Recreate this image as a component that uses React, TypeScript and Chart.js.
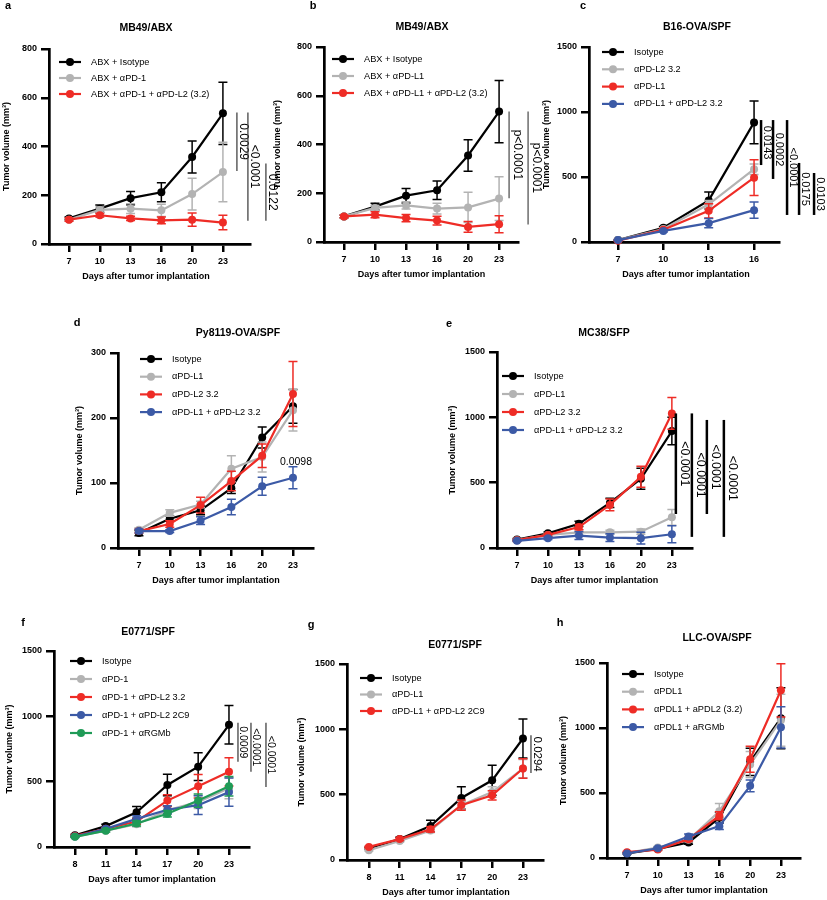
import React, { useEffect, useRef } from 'react';
import { Chart, registerables } from 'chart.js';

Chart.register(...registerables);

const FONT = '"Liberation Sans", Arial, Helvetica, sans-serif';
const BLACK = '#000000';
const GRAY = '#b3b3b3';
const RED = '#ee2c26';
const BLUE = '#3c5aa6';
const GREEN = '#1f9b57';

// ---------- Panel a: MB49/ABX ----------
const aDays = [7, 10, 13, 16, 20, 23];
const aIsotype = [105, 145, 188, 212, 357, 536];
const aIsotypeSem = [6, 15, 27, 39, 66, 128];
const aPD1 = [100, 140, 145, 138, 205, 295];
const aPD1Sem = [5, 12, 20, 25, 65, 122];
const aCombo = [100, 118, 105, 97, 100, 88];
const aComboSem = [7, 7, 9, 14, 27, 30];
const aSig = [
  { from: 540, to: 300, label: '0.0029' },
  { from: 540, to: 95, label: '<0.0001' },
  { from: 330, to: 95, label: '0.0122' },
];

// ---------- Panel b: MB49/ABX ----------
const bDays = [7, 10, 13, 16, 20, 23];
const bIsotype = [105, 145, 190, 212, 355, 535];
const bIsotypeSem = [6, 14, 30, 38, 65, 128];
const bPDL1 = [105, 140, 150, 137, 142, 178];
const bPDL1Sem = [5, 10, 15, 22, 62, 90];
const bCombo = [105, 112, 98, 88, 62, 73];
const bComboSem = [5, 12, 15, 18, 22, 35];
const bSig = [
  { from: 535, to: 180, label: 'p<0.0001' },
  { from: 535, to: 72, label: 'p<0.0001' },
];

// ---------- Panel c: B16-OVA/SPF ----------
const cDays = [7, 10, 13, 16];
const cIsotype = [15, 110, 320, 920];
const cIsotypeSem = [4, 10, 65, 165];
const cPDL2 = [15, 100, 290, 560];
const cPDL2Sem = [3, 8, 30, 40];
const cPDL1 = [10, 95, 240, 495];
const cPDL1Sem = [3, 8, 55, 137];
const cCombo = [15, 85, 145, 245];
const cComboSem = [3, 8, 35, 62];
const cSig = [
  { from: 938, to: 592, label: '0.0143' },
  { from: 938, to: 485, label: '0.0002' },
  { from: 938, to: 208, label: '<0.0001' },
  { from: 608, to: 208, label: '0.0175' },
  { from: 531, to: 208, label: '0.0103' },
];

// ---------- Panel d: Py8119-OVA/SPF ----------
const dDays = [7, 10, 13, 16, 20, 23];
const dIsotype = [23, 45, 58, 92, 170, 218];
const dIsotypeSem = [4, 4, 7, 8, 16, 26];
const dPDL1 = [28, 54, 67, 122, 140, 212];
const dPDL1Sem = [3, 5, 5, 20, 23, 32];
const dPDL2 = [26, 37, 66, 103, 142, 237];
const dPDL2Sem = [3, 5, 12, 15, 18, 50];
const dCombo = [26, 26, 42, 63, 95, 108];
const dComboSem = [3, 2, 6, 12, 14, 17];
const dNotes = [{ index: 5, value: 128, label: '0.0098' }];

// ---------- Panel e: MC38/SFP ----------
const eDays = [7, 10, 13, 16, 20, 23];
const eIsotype = [65, 112, 185, 345, 530, 895];
const eIsotypeSem = [8, 10, 20, 35, 80, 105];
const ePDL1 = [60, 100, 120, 120, 125, 235];
const ePDL1Sem = [6, 10, 20, 15, 20, 60];
const ePDL2 = [60, 100, 160, 330, 545, 1030];
const ePDL2Sem = [6, 10, 20, 45, 80, 122];
const eCombo = [55, 75, 95, 80, 75, 105];
const eComboSem = [6, 10, 30, 30, 45, 65];
const eSig = [
  { from: 1030, to: 260, label: '<0.0001' },
  { from: 1030, to: 85, label: '<0.0001' },
  { from: 980, to: 260, label: '<0.0001' },
  { from: 980, to: 85, label: '<0.0001' },
];

// ---------- Panel f: E0771/SPF ----------
const fDays = [8, 11, 14, 17, 20, 23];
const fIsotype = [90, 160, 265, 475, 615, 935];
const fIsotypeSem = [8, 15, 45, 82, 106, 147];
const fPD1 = [80, 125, 175, 280, 345, 450];
const fPD1Sem = [6, 10, 20, 30, 50, 80];
const fPD1L2 = [85, 140, 195, 355, 465, 575];
const fPD1L2Sem = [6, 10, 20, 45, 90, 108];
const fPD1L2C9 = [80, 140, 215, 285, 320, 420];
const fPD1L2C9Sem = [6, 10, 25, 30, 72, 108];
const fPD1RGMb = [78, 125, 180, 255, 355, 465];
const fPD1RGMbSem = [6, 10, 20, 25, 50, 75];
const fSig = [
  { from: 951, to: 652, label: '0.0009' },
  { from: 951, to: 575, label: '<0.0001' },
  { from: 951, to: 459, label: '<0.0001' },
];

// ---------- Panel g: E0771/SPF ----------
const gDays = [8, 11, 14, 17, 20, 23];
const gIsotype = [90, 160, 260, 475, 610, 930];
const gIsotypeSem = [8, 15, 45, 85, 115, 150];
const gPDL1 = [75, 145, 225, 420, 520, 700];
const gPDL1Sem = [6, 10, 15, 30, 40, 70];
const gCombo = [100, 160, 235, 420, 495, 700];
const gComboSem = [6, 10, 20, 40, 35, 75];
const gSig = [{ from: 955, to: 665, label: '0.0294' }];

// ---------- Panel h: LLC-OVA/SPF ----------
const hDays = [7, 10, 13, 16, 20, 23];
const hIsotype = [35, 70, 120, 310, 740, 1075];
const hIsotypeSem = [5, 8, 15, 40, 105, 235];
const hPDL1 = [40, 80, 140, 360, 720, 1060];
const hPDL1Sem = [5, 8, 15, 60, 100, 200];
const hPDL1L2 = [45, 65, 145, 325, 760, 1290];
const hPDL1L2Sem = [5, 8, 15, 30, 100, 205];
const hPDL1RGMb = [35, 75, 165, 245, 555, 1005];
const hPDL1RGMbSem = [5, 8, 20, 25, 45, 158];

type Series = { label: string; color: string; values: number[]; sem: number[] };
type Sig = { from: number; to: number; label: string };
type Note = { index: number; value: number; label: string };
type SigStyle = { color: string; width: number; size: number; textDx: number };

interface Panel {
  letter: string;
  title: string;
  days: number[];
  series: Series[];
  area: [number, number, number, number];
  xRange: [number, number];
  yMax: number;
  yStep: number;
  titlePos: [number, number];
  letterPos: [number, number];
  yTitleDx: number;
  legend: [number, number, number];
  sig?: Sig[];
  sigDx?: number[];
  sigStyle?: SigStyle;
  notes?: Note[];
}

const PANELS: Panel[] = [
  {
    letter: 'a', title: 'MB49/ABX', days: aDays,
    series: [
      { label: 'ABX + Isotype', color: BLACK, values: aIsotype, sem: aIsotypeSem },
      { label: 'ABX + αPD-1', color: GRAY, values: aPD1, sem: aPD1Sem },
      { label: 'ABX + αPD-1 + αPD-L2 (3.2)', color: RED, values: aCombo, sem: aComboSem },
    ],
    area: [49, 49, 250, 244], xRange: [-0.65, 5.88], yMax: 800, yStep: 200,
    titlePos: [146, 28], letterPos: [8, 6], yTitleDx: 42, legend: [10, 13, 16],
    sig: aSig, sigDx: [14, 25, 43], sigStyle: { color: '#444', width: 1.3, size: 12, textDx: 6 },
  },
  {
    letter: 'b', title: 'MB49/ABX', days: bDays,
    series: [
      { label: 'ABX + Isotype', color: BLACK, values: bIsotype, sem: bIsotypeSem },
      { label: 'ABX + αPD-L1', color: GRAY, values: bPDL1, sem: bPDL1Sem },
      { label: 'ABX + αPD-L1 + αPD-L2 (3.2)', color: RED, values: bCombo, sem: bComboSem },
    ],
    area: [324, 47, 518, 242], xRange: [-0.645, 5.61], yMax: 800, yStep: 200,
    titlePos: [422, 27], letterPos: [313, 6], yTitleDx: 46, legend: [8, 12, 17],
    sig: bSig, sigDx: [10, 29], sigStyle: { color: '#555', width: 1.3, size: 12, textDx: 8 },
  },
  {
    letter: 'c', title: 'B16-OVA/SPF', days: cDays,
    series: [
      { label: 'Isotype', color: BLACK, values: cIsotype, sem: cIsotypeSem },
      { label: 'αPD-L2 3.2', color: GRAY, values: cPDL2, sem: cPDL2Sem },
      { label: 'αPD-L1', color: RED, values: cPDL1, sem: cPDL1Sem },
      { label: 'αPD-L1 + αPD-L2 3.2', color: BLUE, values: cCombo, sem: cComboSem },
    ],
    area: [589, 47, 779, 242], xRange: [-0.64, 3.55], yMax: 1500, yStep: 500,
    titlePos: [697, 27], letterPos: [583, 6], yTitleDx: 42, legend: [13, 5, 17.3],
    sig: cSig, sigDx: [7, 19, 33, 45, 60], sigStyle: { color: '#000', width: 2.5, size: 11, textDx: 5.5 },
  },
  {
    letter: 'd', title: 'Py8119-OVA/SPF', days: dDays,
    series: [
      { label: 'Isotype', color: BLACK, values: dIsotype, sem: dIsotypeSem },
      { label: 'αPD-L1', color: GRAY, values: dPDL1, sem: dPDL1Sem },
      { label: 'αPD-L2 3.2', color: RED, values: dPDL2, sem: dPDL2Sem },
      { label: 'αPD-L1 + αPD-L2 3.2', color: BLUE, values: dCombo, sem: dComboSem },
    ],
    area: [118, 353, 313, 548], xRange: [-0.68, 5.65], yMax: 300, yStep: 100,
    titlePos: [238, 333], letterPos: [77, 323], yTitleDx: 38, legend: [22, 6, 17.7],
    notes: dNotes,
  },
  {
    letter: 'e', title: 'MC38/SFP', days: eDays,
    series: [
      { label: 'Isotype', color: BLACK, values: eIsotype, sem: eIsotypeSem },
      { label: 'αPD-L1', color: GRAY, values: ePDL1, sem: ePDL1Sem },
      { label: 'αPD-L2 3.2', color: RED, values: ePDL2, sem: ePDL2Sem },
      { label: 'αPD-L1 + αPD-L2 3.2', color: BLUE, values: eCombo, sem: eComboSem },
    ],
    area: [497, 352, 692, 548], xRange: [-0.645, 5.65], yMax: 1500, yStep: 500,
    titlePos: [604, 333], letterPos: [449, 324], yTitleDx: 44, legend: [5, 24, 18],
    sig: eSig, sigDx: [4, 20, 35, 52], sigStyle: { color: '#000', width: 2.5, size: 12.4, textDx: 9 },
  },
  {
    letter: 'f', title: 'E0771/SPF', days: fDays,
    series: [
      { label: 'Isotype', color: BLACK, values: fIsotype, sem: fIsotypeSem },
      { label: 'αPD-1', color: GRAY, values: fPD1, sem: fPD1Sem },
      { label: 'αPD-1 + αPD-L2 3.2', color: RED, values: fPD1L2, sem: fPD1L2Sem },
      { label: 'αPD-1 + αPD-L2 2C9', color: BLUE, values: fPD1L2C9, sem: fPD1L2C9Sem },
      { label: 'αPD-1 + αRGMb', color: GREEN, values: fPD1RGMb, sem: fPD1RGMbSem },
    ],
    area: [54, 651, 249, 847], xRange: [-0.68, 5.65], yMax: 1500, yStep: 500,
    titlePos: [148, 632], letterPos: [23, 623], yTitleDx: 44, legend: [16, 10, 18],
    sig: fSig, sigDx: [9, 22, 37], sigStyle: { color: '#333', width: 1.2, size: 10.5, textDx: 5 },
  },
  {
    letter: 'g', title: 'E0771/SPF', days: gDays,
    series: [
      { label: 'Isotype', color: BLACK, values: gIsotype, sem: gIsotypeSem },
      { label: 'αPD-L1', color: GRAY, values: gPDL1, sem: gPDL1Sem },
      { label: 'αPD-L1 + αPD-L2 2C9', color: RED, values: gCombo, sem: gComboSem },
    ],
    area: [347, 664, 543, 860], xRange: [-0.71, 5.65], yMax: 1500, yStep: 500,
    titlePos: [455, 645], letterPos: [311, 625], yTitleDx: 45, legend: [13, 14, 16.5],
    sig: gSig, sigDx: [8], sigStyle: { color: '#333', width: 1.2, size: 11.5, textDx: 6 },
  },
  {
    letter: 'h', title: 'LLC-OVA/SPF', days: hDays,
    series: [
      { label: 'Isotype', color: BLACK, values: hIsotype, sem: hIsotypeSem },
      { label: 'αPDL1', color: GRAY, values: hPDL1, sem: hPDL1Sem },
      { label: 'αPDL1 + aPDL2 (3.2)', color: RED, values: hPDL1L2, sem: hPDL1L2Sem },
      { label: 'αPDL1 + aRGMb', color: BLUE, values: hPDL1RGMb, sem: hPDL1RGMbSem },
    ],
    area: [607, 663, 800, 858], xRange: [-0.65, 5.62], yMax: 1500, yStep: 500,
    titlePos: [717, 638], letterPos: [560, 623], yTitleDx: 43, legend: [15, 11, 17.7],
  },
];

const Y_AXIS_W = 40;
const X_AXIS_H = 30;
const W = 827;
const H = 900;
const POINT_R = 4;

function font(size: number, bold: boolean) {
  return `${bold ? 'bold ' : ''}${size}px ${FONT}`;
}

function makePlugin(p: Panel) {
  return {
    id: 'panel_' + p.letter,
    beforeDatasetDraw(chart: any, args: any) {
      const i = args.index;
      const s = p.series[i];
      if (!s) return;
      const meta = chart.getDatasetMeta(i);
      const ys = chart.scales.y;
      const ctx = chart.ctx;
      ctx.save();
      ctx.strokeStyle = s.color;
      ctx.lineWidth = 1.5;
      meta.data.forEach((pt: any, j: number) => {
        const v = s.values[j];
        const e = s.sem[j];
        const yt = ys.getPixelForValue(v + e);
        const yb = ys.getPixelForValue(Math.max(v - e, 0));
        ctx.beginPath();
        ctx.moveTo(pt.x, yt);
        ctx.lineTo(pt.x, yb);
        ctx.moveTo(pt.x - 4.5, yt);
        ctx.lineTo(pt.x + 4.5, yt);
        ctx.moveTo(pt.x - 4.5, yb);
        ctx.lineTo(pt.x + 4.5, yb);
        ctx.stroke();
      });
      ctx.restore();
    },
    afterDraw(chart: any) {
      const ctx = chart.ctx;
      const ca = chart.chartArea;
      const xs = chart.scales.x;
      const ys = chart.scales.y;
      const n = p.days.length;
      ctx.save();
      ctx.fillStyle = '#000';
      // letter
      ctx.font = font(11, true);
      ctx.textAlign = 'center';
      ctx.textBaseline = 'middle';
      ctx.fillText(p.letter, p.letterPos[0], p.letterPos[1]);
      // title
      ctx.font = font(10.5, true);
      ctx.fillText(p.title, p.titlePos[0], p.titlePos[1]);
      // x title
      ctx.font = font(9, true);
      const xFirst = xs.getPixelForValue(0);
      const xLast = xs.getPixelForValue(n - 1);
      ctx.fillText('Days after tumor implantation', (xFirst + xLast) / 2, ca.bottom + 33);
      // y title
      ctx.save();
      ctx.translate(ca.left - p.yTitleDx, (ca.top + ca.bottom) / 2);
      ctx.rotate(-Math.PI / 2);
      ctx.fillText('Tumor volume (mm³)', 0, 0);
      ctx.restore();
      // legend
      const [ldx, ldy, lgap] = p.legend;
      p.series.forEach((s, i) => {
        const x0 = ca.left + ldx;
        const y0 = ca.top + ldy + i * lgap;
        ctx.strokeStyle = s.color;
        ctx.lineWidth = 2.2;
        ctx.beginPath();
        ctx.moveTo(x0, y0);
        ctx.lineTo(x0 + 22, y0);
        ctx.stroke();
        ctx.fillStyle = s.color;
        ctx.beginPath();
        ctx.arc(x0 + 11, y0, POINT_R, 0, Math.PI * 2);
        ctx.fill();
        ctx.fillStyle = '#000';
        ctx.font = font(9.2, false);
        ctx.textAlign = 'left';
        ctx.textBaseline = 'middle';
        ctx.fillText(s.label, x0 + 32, y0);
      });
      // significance brackets
      if (p.sig && p.sigDx && p.sigStyle) {
        const st = p.sigStyle;
        p.sig.forEach((sg, k) => {
          const x = xLast + p.sigDx![k];
          const y1 = ys.getPixelForValue(sg.from);
          const y2 = ys.getPixelForValue(sg.to);
          ctx.strokeStyle = st.color;
          ctx.lineWidth = st.width;
          ctx.beginPath();
          ctx.moveTo(x, y1);
          ctx.lineTo(x, y2);
          ctx.stroke();
          ctx.save();
          ctx.translate(x + st.textDx, (y1 + y2) / 2);
          ctx.rotate(Math.PI / 2);
          ctx.fillStyle = '#000';
          ctx.font = font(st.size, false);
          ctx.textAlign = 'center';
          ctx.textBaseline = 'middle';
          ctx.fillText(sg.label, 0, 0);
          ctx.restore();
        });
      }
      // notes
      if (p.notes) {
        p.notes.forEach((nt) => {
          ctx.fillStyle = '#000';
          ctx.font = font(10.5, false);
          ctx.textAlign = 'center';
          ctx.textBaseline = 'alphabetic';
          ctx.fillText(nt.label, xs.getPixelForValue(nt.index) + 3, ys.getPixelForValue(nt.value));
        });
      }
      ctx.restore();
    },
  };
}

function zeroPad(s: any) {
  s.paddingLeft = 0;
  s.paddingRight = 0;
  s.paddingTop = 0;
  s.paddingBottom = 0;
}

function buildConfig(p: Panel): any {
  const [L, T, R, B] = p.area;
  const n = p.series.length;
  const tickFont = { family: FONT, size: 9, weight: 'bold' as const };
  const gridCfg = {
    display: true,
    drawOnChartArea: false,
    drawTicks: true,
    tickLength: 8,
    lineWidth: 2.5,
    tickWidth: 2.5,
    color: '#000',
    tickColor: '#000',
  };
  const borderCfg = { display: true, color: '#000', width: 2.7 };
  return {
    type: 'line',
    data: {
      datasets: p.series.map((s, i) => ({
        label: s.label,
        data: s.values.map((v, j) => ({ x: j, y: v })),
        borderColor: s.color,
        backgroundColor: s.color,
        pointBackgroundColor: s.color,
        pointBorderColor: s.color,
        pointBorderWidth: 0,
        pointRadius: POINT_R,
        pointHoverRadius: POINT_R,
        borderWidth: 2.2,
        tension: 0,
        fill: false,
        clip: false,
        order: n - i,
      })),
    },
    options: {
      animation: false,
      responsive: false,
      devicePixelRatio: 1,
      events: [],
      layout: {
        padding: { left: L - Y_AXIS_W, top: T, right: W - R, bottom: H - B - X_AXIS_H },
      },
      plugins: {
        legend: { display: false },
        tooltip: { enabled: false },
        title: { display: false },
      },
      scales: {
        x: {
          type: 'linear',
          min: p.xRange[0],
          max: p.xRange[1],
          offset: false,
          afterBuildTicks: (s: any) => {
            s.ticks = p.days.map((_, i) => ({ value: i }));
          },
          afterFit: (s: any) => {
            s.height = X_AXIS_H;
            zeroPad(s);
          },
          ticks: {
            autoSkip: false,
            maxRotation: 0,
            minRotation: 0,
            includeBounds: false,
            padding: 4,
            color: '#000',
            font: tickFont,
            callback: (v: number) => String(p.days[Math.round(v)]),
          },
          grid: gridCfg,
          border: borderCfg,
        },
        y: {
          type: 'linear',
          min: 0,
          max: p.yMax,
          afterFit: (s: any) => {
            s.width = Y_AXIS_W;
            zeroPad(s);
          },
          ticks: {
            stepSize: p.yStep,
            padding: 4,
            color: '#000',
            font: tickFont,
            callback: (v: number) => String(v),
          },
          grid: gridCfg,
          border: borderCfg,
        },
      },
    },
    plugins: [makePlugin(p)],
  };
}

function PanelChart({ panel }: { panel: Panel }) {
  const ref = useRef<HTMLCanvasElement | null>(null);
  useEffect(() => {
    if (!ref.current) return;
    const chart = new Chart(ref.current, buildConfig(panel));
    return () => chart.destroy();
  }, [panel]);
  return (
    <canvas
      ref={ref}
      width={W}
      height={H}
      style={{ position: 'absolute', left: 0, top: 0, width: W, height: H }}
    />
  );
}

export default function App() {
  return (
    <div style={{ position: 'absolute', left: 0, top: 0, width: W, height: H, background: '#fff', overflow: 'hidden' }}>
      {PANELS.map((p) => (
        <PanelChart key={p.letter} panel={p} />
      ))}
    </div>
  );
}
